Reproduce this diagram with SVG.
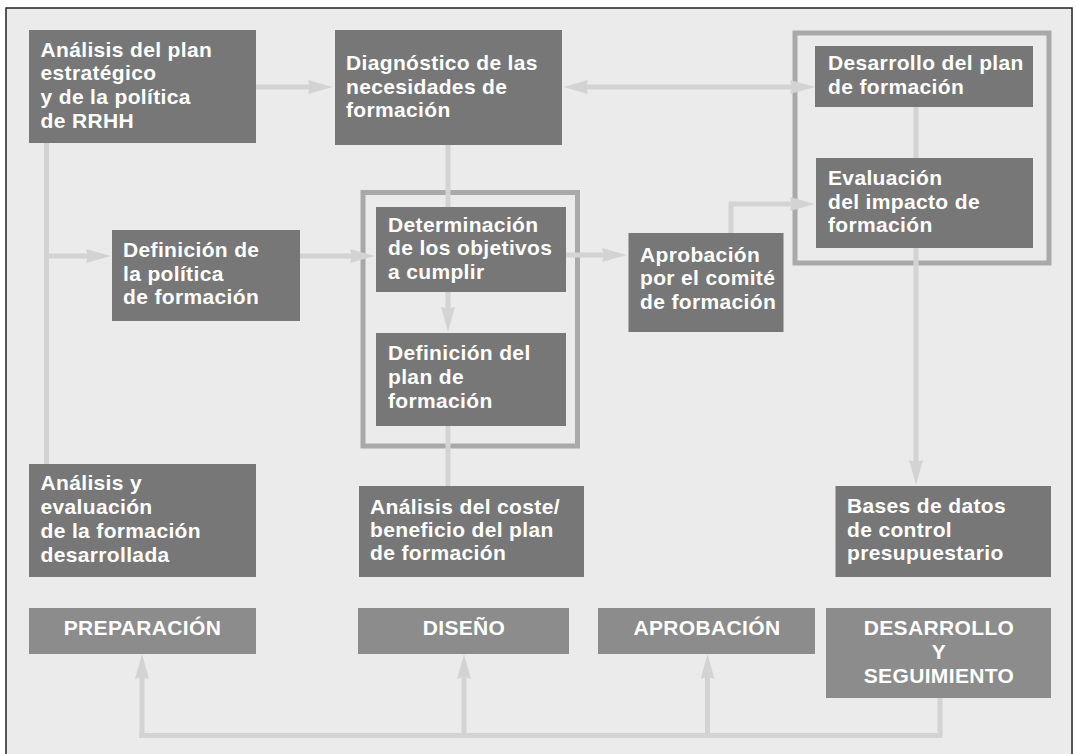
<svg xmlns="http://www.w3.org/2000/svg" width="1076" height="754" viewBox="0 0 1076 754">
<defs>
<style>
.node{fill:#777777}
.phase{fill:#8c8c8c}
.grp{fill:none;stroke:#a9a9a9;stroke-width:5}
.con{fill:none;stroke:#d3d3d3;stroke-width:5}
.arr{marker-end:url(#ah)}
text{font-family:"Liberation Sans",Arial,Helvetica,sans-serif;font-weight:bold;font-size:21px;fill:#ffffff;letter-spacing:0.35px}
.c{text-anchor:middle}
</style>
<marker id="ah" markerUnits="userSpaceOnUse" markerWidth="25" markerHeight="14" viewBox="0 0 25 14" refX="7" refY="7" orient="auto-start-reverse">
<path d="M0,0 L25,7 L0,14 L2,7 Z" fill="#d3d3d3"/>
</marker>
</defs>
<rect x="0" y="0" width="1076" height="754" fill="#ffffff"/>
<rect x="6" y="8" width="1066" height="760" fill="#ebebeb" stroke="#222222" stroke-width="1.5"/>

<g id="groups">
<rect class="grp" x="363" y="192.5" width="214.5" height="253.5"/>
<rect class="grp" x="795" y="33" width="254" height="230"/>
</g>

<g id="connectors">
<line class="con arr" x1="256" y1="87" x2="315" y2="87"/>
<line class="con" x1="46.5" y1="143" x2="46.5" y2="464"/>
<line class="con arr" x1="44" y1="256" x2="93" y2="256"/>
<line class="con arr" x1="300" y1="256" x2="357" y2="256"/>
<line class="con" x1="448" y1="145" x2="448" y2="207"/>
<line class="con arr" x1="448" y1="292" x2="448" y2="314"/>
<line class="con" x1="448" y1="426" x2="448" y2="486"/>
<line class="con" x1="581" y1="87" x2="797" y2="87" marker-start="url(#ah)" marker-end="url(#ah)"/>
<line class="con" x1="916" y1="107" x2="916" y2="158"/>
<line class="con arr" x1="916" y1="248" x2="916" y2="467"/>
<line class="con arr" x1="566" y1="255" x2="609" y2="255"/>
<path class="con arr" d="M731,233 V204 H797"/>
<path class="con" d="M940,698 V735.5 H139.5"/>
<line class="con arr" x1="142" y1="738" x2="142" y2="672"/>
<line class="con arr" x1="464" y1="738" x2="464" y2="672"/>
<line class="con arr" x1="707.5" y1="738" x2="707.5" y2="672"/>
</g>

<g id="n1"><rect class="node" x="29" y="30" width="227" height="113"/>
<text><tspan x="40.5" y="56.5">Análisis del plan</tspan><tspan x="40.5" y="80">estratégico</tspan><tspan x="40.5" y="104">y de la política</tspan><tspan x="40.5" y="127.5">de RRHH</tspan></text></g>

<g id="n2"><rect class="node" x="335" y="30" width="227" height="115"/>
<text><tspan x="346" y="70">Diagnóstico de las</tspan><tspan x="346" y="94">necesidades de</tspan><tspan x="346" y="117">formación</tspan></text></g>

<g id="n3"><rect class="node" x="112" y="230" width="188" height="91"/>
<text><tspan x="123" y="257">Definición de</tspan><tspan x="123" y="281">la política</tspan><tspan x="123" y="304">de formación</tspan></text></g>

<g id="n4"><rect class="node" x="376" y="207" width="190" height="85"/>
<text><tspan x="388" y="232">Determinación</tspan><tspan x="388" y="255">de los objetivos</tspan><tspan x="388" y="279">a cumplir</tspan></text></g>

<g id="n5"><rect class="node" x="376" y="333" width="190" height="93"/>
<text><tspan x="388" y="360">Definición del</tspan><tspan x="388" y="384">plan de</tspan><tspan x="388" y="408">formación</tspan></text></g>

<g id="n6"><rect class="node" x="359" y="486" width="225" height="91"/>
<text><tspan x="370" y="514">Análisis del coste/</tspan><tspan x="370" y="537">beneficio del plan</tspan><tspan x="370" y="560">de formación</tspan></text></g>

<g id="n7"><rect class="node" x="29" y="464" width="227" height="113"/>
<text><tspan x="40.5" y="490">Análisis y</tspan><tspan x="40.5" y="514">evaluación</tspan><tspan x="40.5" y="538">de la formación</tspan><tspan x="40.5" y="562">desarrollada</tspan></text></g>

<g id="n8"><rect class="node" x="815" y="46" width="218" height="61"/>
<text><tspan x="828" y="70">Desarrollo del plan</tspan><tspan x="828" y="94">de formación</tspan></text></g>

<g id="n9"><rect class="node" x="816" y="158" width="217" height="90"/>
<text><tspan x="828" y="185">Evaluación</tspan><tspan x="828" y="209">del impacto de</tspan><tspan x="828" y="232">formación</tspan></text></g>

<g id="n10"><rect class="node" x="628.5" y="233" width="155" height="99"/>
<text><tspan x="640" y="262">Aprobación</tspan><tspan x="640" y="285">por el comité</tspan><tspan x="640" y="309">de formación</tspan></text></g>

<g id="n11"><rect class="node" x="835.5" y="486" width="215.5" height="91"/>
<text><tspan x="847" y="513">Bases de datos</tspan><tspan x="847" y="537">de control</tspan><tspan x="847" y="560">presupuestario</tspan></text></g>

<g id="p1"><rect class="phase" x="29" y="608" width="227" height="46"/>
<text class="c" x="142.5" y="635">PREPARACIÓN</text></g>

<g id="p2"><rect class="phase" x="358" y="608" width="211" height="46"/>
<text class="c" x="464" y="635">DISEÑO</text></g>

<g id="p3"><rect class="phase" x="598" y="608" width="217" height="46"/>
<text class="c" x="707" y="635">APROBACIÓN</text></g>

<g id="p4"><rect class="phase" x="826" y="608" width="225" height="90"/>
<text class="c"><tspan x="939" y="634.5">DESARROLLO</tspan><tspan x="939" y="658.5">Y</tspan><tspan x="939" y="682.5">SEGUIMIENTO</tspan></text></g>
</svg>
